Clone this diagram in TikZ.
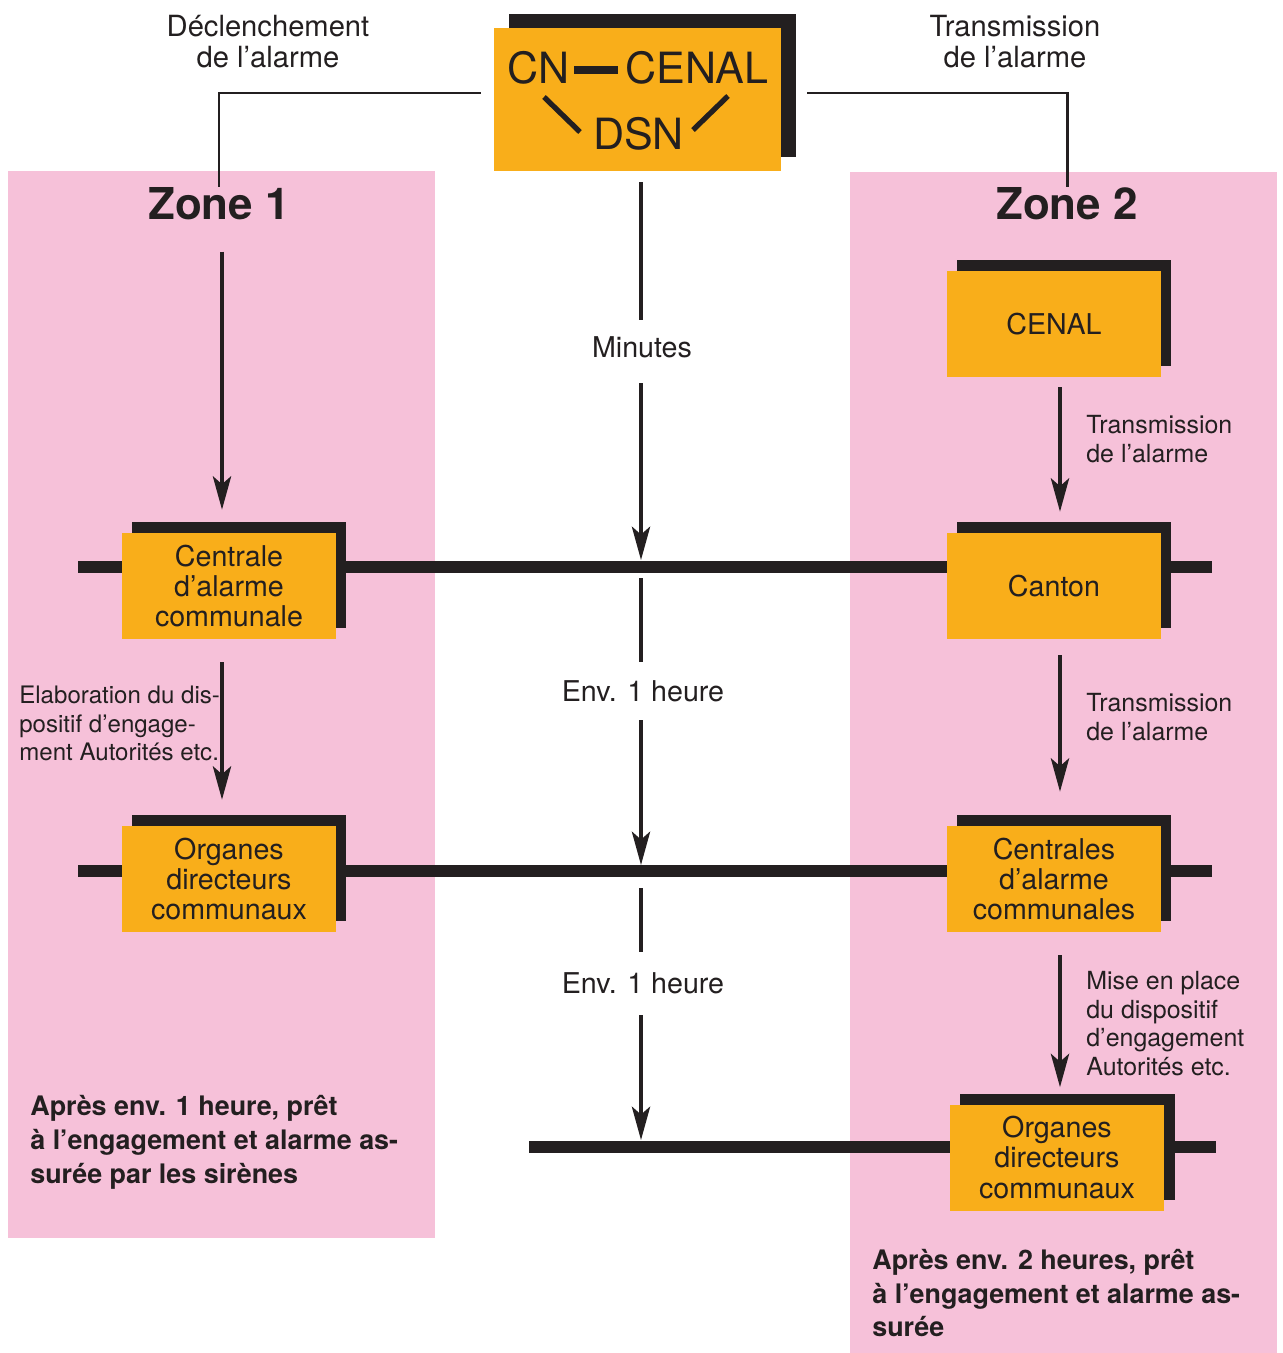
\documentclass[tikz,border=0pt]{standalone}
\usepackage{fontspec}
\setmainfont{TeX Gyre Heros}
\usetikzlibrary{arrows.meta,backgrounds,shadows,calc}
\definecolor{zpink}{HTML}{F6C1D9}
\definecolor{zorange}{HTML}{F9AE1A}
\definecolor{zdark}{HTML}{231F20}
\begin{document}
\begin{tikzpicture}[x=0.02cm,y=-0.02cm,
  every node/.style={text=zdark,font=\fontsize{16.3}{17.1}\selectfont},
  box/.style={fill=zorange,minimum width=4.28cm,minimum height=2.12cm,inner sep=0pt,align=center,
    general shadow={fill=zdark,shadow xshift=0.2cm,shadow yshift=0.22cm}},
  topbox/.style={fill=zorange,minimum width=5.74cm,minimum height=2.86cm,inner sep=0pt,
    general shadow={fill=zdark,shadow xshift=0.3cm,shadow yshift=0.28cm}},
  bigtxt/.style={font=\fontsize{24.5}{26}\selectfont,inner sep=0pt,anchor=base},
  zonetitle/.style={font=\fontsize{25}{27}\selectfont\bfseries,inner sep=0pt},
  toplabel/.style={font=\fontsize{16.6}{17.6}\selectfont,align=center,inner sep=0pt},
  sidelabel/.style={font=\fontsize{14.2}{16.2}\selectfont,align=left,anchor=west,inner sep=0pt},
  boldlabel/.style={font=\fontsize{15.3}{19.3}\selectfont\bfseries,align=left,anchor=west,inner sep=0pt},
  midlabel/.style={inner sep=0pt,minimum height=1.26cm},
  conn/.style={draw=zdark,line width=1.7pt},
  vline/.style={draw=zdark,line width=2pt},
  arr/.style={draw=zdark,line width=2pt,-{Stealth[length=19pt,width=10.4pt,inset=4.5pt]}},
  rowline/.style={draw=zdark,line width=6.3pt}
]
\useasboundingbox (0,0) rectangle (1282,1353);

% x positions of vertical arrows
\coordinate (xl) at (222,0);
\coordinate (xc) at (641,0);
\coordinate (xr) at (1060,0);
% row lines
\coordinate (r1w) at (78,567);  \coordinate (r1e) at (1212,567);
\coordinate (r2w) at (78,871);  \coordinate (r2e) at (1212,871);
\coordinate (r3w) at (529,1147); \coordinate (r3e) at (1216,1147);
\coordinate (r1) at (641,567);
\coordinate (r2) at (641,871);
\coordinate (r3) at (641,1147);

% top box
\node[topbox] (top) at (637.5,99.5) {};
\node[bigtxt] (cn) at (538.5,83) {CN};
\node[bigtxt] (cenal0) at (697,83) {CENAL};
\node[bigtxt] (dsn) at (638.5,149) {DSN};
\draw[zdark,line width=4pt] (574,70) -- (618,70);
\draw[zdark,line width=3pt] (544,97) -- (580,132);
\draw[zdark,line width=3pt] (728,96) -- (693,130);

% top labels
\node[toplabel] (decl) at (268,42) {Déclenchement\\de l’alarme};
\node[toplabel] (trans) at (1015,42) {Transmission\\de l’alarme};

% zone titles
\node[zonetitle] (z1) at (219,204) {Zone 1};
\node[zonetitle] (z2) at (1067,204) {Zone 2};

% boxes
\node[box] (cent1) at (229,586) {Centrale\\d’alarme\\communale};
\node[box] (org1) at (229,879) {Organes\\directeurs\\communaux};
\node[box] (cenal) at (1054,324) {CENAL};
\node[box] (canton) at (1054,586) {Canton};
\node[box] (cents2) at (1054,879) {Centrales\\d’alarme\\communales};
\node[box,general shadow={fill=zdark,shadow xshift=0.22cm,shadow yshift=0.22cm}] (org2) at (1057,1157.5) {Organes\\directeurs\\communaux};

% center labels
\node[midlabel] (min) at (642,347) {Minutes};
\node[midlabel,minimum height=1.16cm] (env1) at (643,691) {Env. 1 heure};
\node[midlabel] (env2) at (643,983.5) {Env. 1 heure};

% side labels
\node[sidelabel] (t1) at (1086,439) {Transmission\\de l’alarme};
\node[sidelabel] (t2) at (1086,717) {Transmission\\de l’alarme};
\node[sidelabel] (mise) at (1086,1023.5) {Mise en place\\du dispositif\\d’engagement\\Autorités etc.};
\node[sidelabel,font=\fontsize{13.7}{16.2}\selectfont] (elab) at (19,723.5) {Elaboration du dis-\\positif d’engage-\\ment Autorités etc.};
\node[boldlabel] (res1) at (30,1142) {Après env. 1 heure, prêt\\à l’engagement et alarme as-\\surée par les sirènes};
\node[boldlabel] (res2) at (872,1293) {Après env. 2 heures, prêt\\à l’engagement et alarme as-\\surée};

\begin{scope}[on background layer]
  \fill[zpink] (8,171) rectangle (435,1238);
  \fill[zpink] (850,172) rectangle (1277,1353);
  \draw[rowline] (r1w) -- (r1e);
  \draw[rowline] (r2w) -- (r2e);
  \draw[rowline] (r3w) -- (r3e);
\end{scope}

% top connectors
\draw[conn] ($(top.west)+(-13,-6.5)$) -| (z1.north);
\draw[conn] ($(top.east)+(26,-6.5)$) -| (z2.north);

% zone 1 arrows
\draw[arr,shorten <=0.62cm,shorten >=0.46cm] (z1.south -| xl) -- (cent1.north -| xl);
\draw[arr,shorten <=0.46cm,shorten >=0.52cm] (cent1.south -| xl) -- (org1.north -| xl);

% zone 2 arrows
\draw[arr,shorten <=0.2cm,shorten >=0.42cm] (cenal.south -| xr) -- (canton.north -| xr);
\draw[arr,shorten <=0.32cm,shorten >=0.68cm] (canton.south -| xr) -- (cents2.north -| xr);
\draw[arr,shorten <=0.46cm,shorten >=0.34cm] (cents2.south -| xr) -- (org2.north -| xr);

% center arrows
\draw[vline,shorten <=0.22cm,shorten >=-0.09cm] (top.south -| xc) -- (min.north -| xc);
\draw[arr,shorten <=0.09cm,shorten >=0.14cm] (min.south -| xc) -- (r1);
\draw[vline,shorten <=0.22cm] (r1) -- (env1.north -| xc);
\draw[arr,shorten >=0.12cm] (env1.south -| xc) -- (r2);
\draw[vline,shorten <=0.34cm] (r2) -- (env2.north -| xc);
\draw[arr,shorten >=0.14cm] (env2.south -| xc) -- (r3);
\end{tikzpicture}
\end{document}
